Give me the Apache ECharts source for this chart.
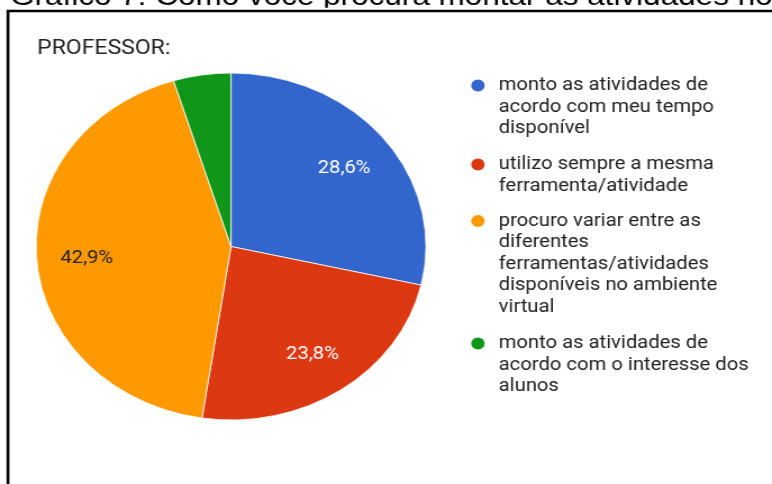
<!DOCTYPE html>
<html><head><meta charset="utf-8">
<script src="https://cdn.jsdelivr.net/npm/echarts@6/dist/echarts.min.js"></script>
<style>
html,body{margin:0;padding:0;background:#fff;overflow:hidden;width:772px;height:484px;}
#chart{width:687px;height:484px;transform:scaleX(1.1237);transform-origin:0 0;}
</style></head><body><div id="chart"></div>
<script>
// ---- data ----
const categories = [
  'monto as atividades de acordo com meu tempo disponível',
  'utilizo sempre a mesma ferramenta/atividade',
  'procuro variar entre as diferentes ferramentas/atividades disponíveis no ambiente virtual',
  'monto as atividades de acordo com o interesse dos alunos'
];
const legendLines = [
  ['monto as atividades de', 'acordo com meu tempo', 'disponível'],
  ['utilizo sempre a mesma', 'ferramenta/atividade'],
  ['procuro variar entre as', 'diferentes', 'ferramentas/atividades', 'disponíveis no ambiente', 'virtual'],
  ['monto as atividades de', 'acordo com o interesse dos', 'alunos']
];
const values = [6, 5, 9, 1];
const chartTitle = 'PROFESSOR:';
const pageTitle = 'Gráfico 7: Como você procura montar as atividades no ambiente virtual?';

// ---- styles / layout ----
const colors = ['#3366cc', '#dc3912', '#ff9900', '#109618'];
const labelColors = ['#ffffff', '#ffffff', '#222222', '#ffffff'];
const legendIconY = [85.5, 164.5, 221, 343.5];
const LH = 21.6;
const center = [205.6, 246.5];
const R = 173.5;

function pct(p) {
  if (p < 5) return '';
  return p.toFixed(1).replace('.', ',') + '%';
}

const chart = echarts.init(document.getElementById('chart'));
chart.setOption({
  animation: false,
  backgroundColor: '#fff',
  title: {
    text: chartTitle, left: 33, top: 38, padding: 0,
    textStyle: { fontFamily: 'Roboto', fontSize: 20.5, fontWeight: 'normal', color: '#222' }
  },
  legend: categories.map((name, i) => {
    const n = legendLines[i].length;
    return {
      data: [name], orient: 'vertical', left: 417.3,
      top: legendIconY[i] - (2 * n - 1) * LH / 2,
      padding: 0, itemWidth: 14, itemHeight: 14, icon: 'circle',
      selectedMode: false,
      formatter: () => (n > 1 ? '{p| }\n' : '') + legendLines[i].map(s => '{t|' + s + '}').join('\n'),
      textStyle: {
        fontFamily: 'Roboto', fontSize: 18, lineHeight: LH, color: '#222',
        padding: [0, 0, 0, 6.5],
        rich: {
          p: { fontSize: 2, lineHeight: (n - 1) * LH, height: (n - 1) * LH },
          t: { fontFamily: 'Roboto', fontSize: 18, lineHeight: LH, color: '#222' }
        }
      }
    };
  }),
  graphic: [
    { type: 'text', z: 1, style: { text: pageTitle, x: 9, y: -3, font: '28px "Liberation Sans"', fill: '#000', verticalAlign: 'middle' } },
    { type: 'rect', z: 2, shape: { x: 0, y: 7.8, width: 700, height: 3 }, style: { fill: '#fff' } },
    { type: 'rect', z: 3, shape: { x: 7.1, y: 11, width: 700, height: 500 }, style: { fill: 'none', stroke: '#000', lineWidth: 2.6 } }
  ],
  series: [
    {
      type: 'pie', center: center, radius: R, startAngle: 90, clockwise: true,
      label: { show: false }, labelLine: { show: false },
      emphasis: { disabled: true },
      itemStyle: { borderColor: '#fff', borderWidth: 0.8 },
      data: categories.map((c, i) => ({ name: c, value: values[i], itemStyle: { color: colors[i] } }))
    },
    {
      type: 'pie', center: center, radius: [78, R], startAngle: 90, clockwise: true,
      silent: true, emphasis: { disabled: true },
      itemStyle: { color: 'rgba(0,0,0,0)', borderWidth: 0 },
      labelLine: { show: false },
      label: {
        show: true, position: 'inside', fontFamily: 'Roboto', fontSize: 18,
        formatter: p => '{v|' + pct(p.percent) + '}',
        rich: { v: { fontFamily: 'Roboto', fontSize: 18, padding: [4, 0, 0, 0] } }
      },
      data: categories.map((c, i) => ({ name: c, value: values[i], label: { color: labelColors[i] } }))
    }
  ]
});
</script></body></html>
